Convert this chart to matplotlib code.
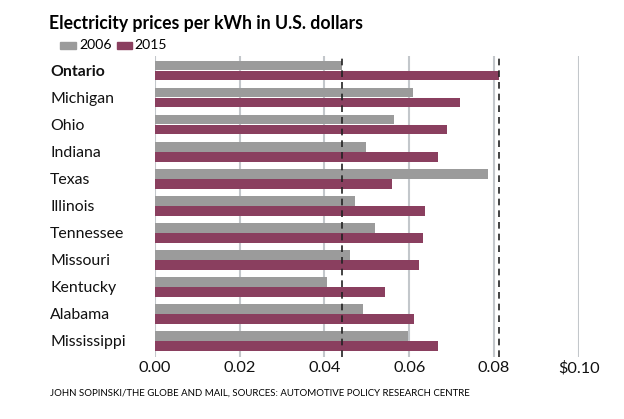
import matplotlib.pyplot as plt
import numpy as np
from matplotlib import rcParams as defaults
from matplotlib.patches import Rectangle

defaults["font.family"] = ["Lato", "DejaVu Sans"]

states = ["Ontario", "Michigan", "Ohio", "Indiana", "Texas", "Illinois",
          "Tennessee", "Missouri", "Kentucky", "Alabama", "Mississippi"]
price_2006 = [0.0442, 0.0608, 0.0563, 0.0497, 0.0785, 0.0471,
              0.0519, 0.0460, 0.0407, 0.0492, 0.0596]
price_2015 = [0.0811, 0.0719, 0.0690, 0.0668, 0.0560, 0.0638,
              0.0632, 0.0624, 0.0543, 0.0611, 0.0667]
ticks = [0.0, 0.02, 0.04, 0.06, 0.08, 0.10]
tick_labels = ["0.00", "0.02", "0.04", "0.06", "0.08", "$0.10"]

grey = "#9b9b9b"
maroon = "#8a3f5f"
grid = "#c3c7cb"

fig = plt.figure(figsize=(6.24, 4.19), dpi=100)
ax = fig.add_axes([155 / 624, 1 - 357 / 419, (578.7 - 155) / 624, (357 - 56) / 419])

y = np.arange(len(states))
h = 0.36
for t in ticks:
    ax.axvline(t, color=grid, lw=1.5, zorder=0)
ax.barh(y - 0.185, price_2006, height=h, color=grey, zorder=2)
ax.barh(y + 0.185, price_2015, height=h, color=maroon, zorder=2)

# dashed reference lines at Ontario's two values
ax.axvline(price_2006[0], color="#222222", lw=1.2, ls=(0, (4, 3)), zorder=3)
ax.axvline(price_2015[0], color="#222222", lw=1.2, ls=(0, (4, 3)), zorder=3)

ax.set_xlim(0, 0.1)
ax.set_ylim(10.6, -0.54)
for s in ax.spines.values():
    s.set_visible(False)

ax.set_xticks(ticks, tick_labels, fontsize=11.8, color="#111111")
ax.tick_params(axis="x", length=0, pad=3)
ax.set_yticks(y, states, fontsize=11.4, ha="left", color="#111111")
ax.tick_params(axis="y", length=0, pad=105 * 72 / 100)
ax.get_yticklabels()[0].set_fontweight("bold")

fig.text(49 / 624, 1 - 24 / 419, "Electricity prices per kWh in U.S. dollars",
         fontsize=12.7, fontweight="bold", va="center", ha="left")
# legend
fig.patches.append(Rectangle((60 / 624, 1 - 49 / 419), 16 / 624, 7 / 419,
                             transform=fig.transFigure, color=grey))
fig.text(79 / 624, 1 - 45 / 419, "2006", fontsize=10.1, va="center")
fig.patches.append(Rectangle((117 / 624, 1 - 49 / 419), 15 / 624, 7 / 419,
                             transform=fig.transFigure, color=maroon))
fig.text(134 / 624, 1 - 45 / 419, "2015", fontsize=10.1, va="center")

fig.text(50 / 624, 1 - 393 / 419,
         "JOHN SOPINSKI/THE GLOBE AND MAIL, SOURCES: AUTOMOTIVE POLICY RESEARCH CENTRE",
         fontsize=6.9, va="center", ha="left")

plt.savefig("out.png", dpi=100)
